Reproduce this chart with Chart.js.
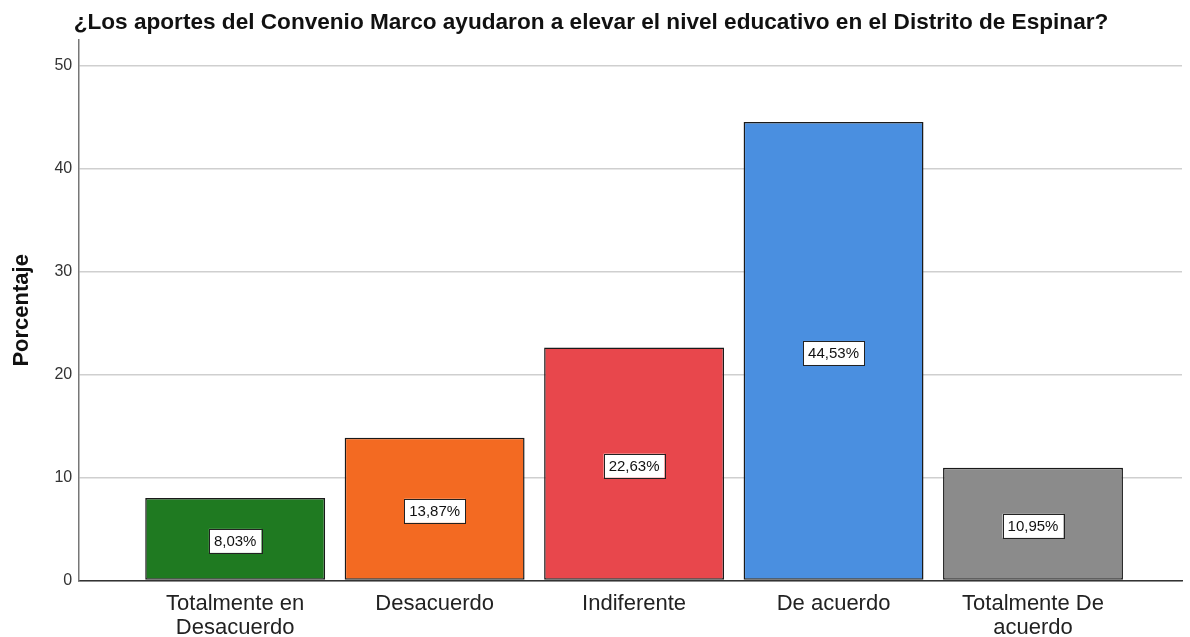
<!DOCTYPE html>
<html>
<head>
<meta charset="utf-8">
<script src="https://cdn.jsdelivr.net/npm/chart.js@4.4.1/dist/chart.umd.min.js"></script>
<style>
  html, body { margin: 0; padding: 0; background: #fff; }
  #wrap { width: 1190px; height: 637px; }
</style>
</head>
<body>
<div id="wrap"><canvas id="chart" width="1190" height="637"></canvas></div>
<script>
// data
const categories = [
  ['Totalmente en', 'Desacuerdo'],
  ['Desacuerdo'],
  ['Indiferente'],
  ['De acuerdo'],
  ['Totalmente De', 'acuerdo']
];
const percentages = [8.03, 13.87, 22.63, 44.53, 10.95];
const barColors = ['#1f7a21', '#f36a22', '#e8474c', '#4a8fe0', '#8b8b8b'];
const yTicks = [0, 10, 20, 30, 40, 50];
const chartTitle = '¿Los aportes del Convenio Marco ayudaron a elevar el nivel educativo en el Distrito de Espinar?';
const yTitle = 'Porcentaje';

const FONT = "'Liberation Sans', Arial, sans-serif";

// white boxed percentage label in the middle of each bar
const barLabels = {
  id: 'barLabels',
  afterDatasetsDraw(chart) {
    const ctx = chart.ctx;
    const meta = chart.getDatasetMeta(0);
    ctx.save();
    ctx.font = '15px ' + FONT;
    ctx.textAlign = 'center';
    ctx.textBaseline = 'middle';
    meta.data.forEach((bar, i) => {
      const txt = percentages[i].toFixed(2).replace('.', ',') + '%';
      const w = ctx.measureText(txt).width + 10;
      const h = 24;
      const cx = bar.x;
      const cy = (bar.y + bar.base) / 2 + 2;
      ctx.fillStyle = '#ffffff';
      ctx.fillRect(cx - w / 2, cy - h / 2, w, h);
      ctx.strokeStyle = '#222';
      ctx.lineWidth = 1;
      ctx.strokeRect(Math.round(cx - w / 2) + 0.5, Math.round(cy - h / 2) + 0.5, Math.round(w), h);
      ctx.fillStyle = '#111';
      ctx.fillText(txt, cx, cy + 1);
    });
    ctx.restore();
  }
};

new Chart(document.getElementById('chart'), {
  type: 'bar',
  data: {
    datasets: [{
      data: percentages.map((v, i) => ({ x: i, y: v })),
      backgroundColor: barColors,
      borderColor: '#1a1a1a',
      borderWidth: 1.5,
      borderSkipped: false,
      barPercentage: 1,
      categoryPercentage: 0.902
    }]
  },
  options: {
    responsive: false,
    animation: false,
    layout: { padding: { left: 0, right: 8, top: 0, bottom: -14 } },
    plugins: {
      legend: { display: false },
      tooltip: { enabled: false },
      title: {
        display: true,
        text: chartTitle,
        color: '#111',
        font: { family: FONT, size: 22.6, weight: 'bold' },
        padding: { top: 8.9, bottom: 4 }
      }
    },
    scales: {
      x: {
        type: 'linear',
        offset: false,
        min: -0.782,
        max: 4.747,
        afterBuildTicks: s => { s.ticks = categories.map((c, i) => ({ value: i })); },
        grid: { display: false, drawTicks: false, offset: false },
        border: { display: true, color: '#333', width: 1.5 },
        ticks: {
          autoSkip: false,
          maxRotation: 0,
          padding: 11,
          color: '#222',
          font: { family: FONT, size: 22, lineHeight: 1.1 },
          callback: v => categories[v]
        }
      },
      y: {
        min: 0,
        max: 52.5,
        afterBuildTicks: s => { s.ticks = yTicks.map(v => ({ value: v })); },
        grid: { color: '#cfcfcf', lineWidth: 1.5, drawTicks: false },
        border: { display: true, color: '#777', width: 1.5 },
        ticks: {
          padding: 7,
          color: '#333',
          font: { family: FONT, size: 16 }
        },
        title: {
          display: true,
          text: yTitle,
          color: '#111',
          font: { family: FONT, size: 22, weight: 'bold' },
          padding: { top: 9, bottom: 12 }
        }
      }
    }
  },
  plugins: [barLabels]
});
</script>
</body>
</html>
